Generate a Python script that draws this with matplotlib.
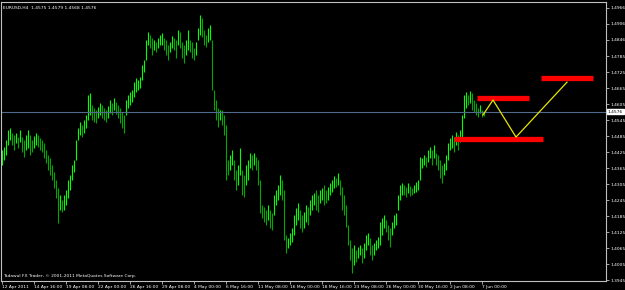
import matplotlib
matplotlib.use("Agg")
import matplotlib.pyplot as plt
import numpy as np

# EURUSD H4 bars (high / low per bar)
highs = [1.4433, 1.4444, 1.4470, 1.4508, 1.4515, 1.4496, 1.4489, 1.4496, 1.4481, 1.4508,
         1.4481, 1.4470, 1.4489, 1.4508, 1.4489, 1.4470, 1.4485, 1.4496, 1.4489, 1.4478,
         1.4470, 1.4459, 1.4433, 1.4414, 1.4403, 1.4376, 1.4350, 1.4320, 1.4290, 1.4264,
         1.4245, 1.4264, 1.4283, 1.4320, 1.4339, 1.4376, 1.4395, 1.4470, 1.4515, 1.4538,
         1.4526, 1.4545, 1.4564, 1.4639, 1.4646, 1.4601, 1.4590, 1.4583, 1.4594, 1.4609,
         1.4601, 1.4590, 1.4583, 1.4598, 1.4620, 1.4609, 1.4628, 1.4613, 1.4601, 1.4590,
         1.4575, 1.4564, 1.4620, 1.4639, 1.4650, 1.4658, 1.4688, 1.4703, 1.4695, 1.4706,
         1.4751, 1.4770, 1.4845, 1.4875, 1.4864, 1.4853, 1.4845, 1.4838, 1.4853, 1.4864,
         1.4871, 1.4853, 1.4845, 1.4826, 1.4838, 1.4860, 1.4853, 1.4845, 1.4883, 1.4875,
         1.4838, 1.4826, 1.4845, 1.4883, 1.4845, 1.4838, 1.4815, 1.4838, 1.4890, 1.4939,
         1.4928, 1.4883, 1.4864, 1.4890, 1.4901, 1.4845, 1.4658, 1.4620, 1.4590, 1.4583,
         1.4583, 1.4564, 1.4526, 1.4395, 1.4414, 1.4433, 1.4395, 1.4358, 1.4376, 1.4440,
         1.4358, 1.4339, 1.4376, 1.4395, 1.4421, 1.4414, 1.4421, 1.4406, 1.4395, 1.4320,
         1.4226, 1.4219, 1.4208, 1.4226, 1.4208, 1.4196, 1.4264, 1.4283, 1.4301, 1.4339,
         1.4320, 1.4283, 1.4114, 1.4103, 1.4121, 1.4140, 1.4189, 1.4215, 1.4234, 1.4208,
         1.4189, 1.4200, 1.4226, 1.4219, 1.4245, 1.4264, 1.4271, 1.4283, 1.4264, 1.4283,
         1.4290, 1.4301, 1.4283, 1.4294, 1.4309, 1.4320, 1.4335, 1.4328, 1.4346, 1.4320,
         1.4294, 1.4264, 1.4226, 1.4151, 1.4095, 1.4065, 1.4076, 1.4058, 1.4069, 1.4076,
         1.4065, 1.4084, 1.4114, 1.4121, 1.4103, 1.4076, 1.4084, 1.4095, 1.4106, 1.4163,
         1.4178, 1.4189, 1.4170, 1.4151, 1.4140, 1.4163, 1.4189, 1.4196, 1.4264, 1.4301,
         1.4309, 1.4301, 1.4294, 1.4309, 1.4298, 1.4290, 1.4301, 1.4313, 1.4320, 1.4406,
         1.4403, 1.4414, 1.4406, 1.4433, 1.4444, 1.4433, 1.4451, 1.4421, 1.4414, 1.4395,
         1.4376, 1.4384, 1.4414, 1.4459, 1.4478, 1.4489, 1.4481, 1.4500, 1.4489, 1.4508,
         1.4564, 1.4639, 1.4650, 1.4639, 1.4654, 1.4646, 1.4620, 1.4609, 1.4590, 1.4601,
         1.4583, 1.4575]
lows = [1.4376, 1.4395, 1.4414, 1.4451, 1.4470, 1.4451, 1.4433, 1.4459, 1.4440, 1.4463,
        1.4425, 1.4406, 1.4433, 1.4440, 1.4414, 1.4425, 1.4440, 1.4451, 1.4444, 1.4433,
        1.4425, 1.4403, 1.4384, 1.4358, 1.4339, 1.4320, 1.4290, 1.4253, 1.4159, 1.4208,
        1.4200, 1.4208, 1.4226, 1.4253, 1.4283, 1.4320, 1.4350, 1.4395, 1.4470, 1.4489,
        1.4481, 1.4496, 1.4515, 1.4545, 1.4564, 1.4545, 1.4538, 1.4534, 1.4553, 1.4564,
        1.4553, 1.4545, 1.4538, 1.4553, 1.4571, 1.4564, 1.4583, 1.4568, 1.4553, 1.4534,
        1.4515, 1.4496, 1.4564, 1.4590, 1.4601, 1.4613, 1.4631, 1.4650, 1.4658, 1.4665,
        1.4695, 1.4725, 1.4770, 1.4826, 1.4815, 1.4789, 1.4808, 1.4800, 1.4815, 1.4826,
        1.4826, 1.4808, 1.4789, 1.4770, 1.4800, 1.4815, 1.4808, 1.4778, 1.4826, 1.4815,
        1.4778, 1.4759, 1.4789, 1.4808, 1.4800, 1.4778, 1.4770, 1.4789, 1.4845, 1.4864,
        1.4856, 1.4826, 1.4819, 1.4838, 1.4845, 1.4658, 1.4583, 1.4545, 1.4519, 1.4545,
        1.4526, 1.4489, 1.4320, 1.4339, 1.4358, 1.4376, 1.4320, 1.4283, 1.4301, 1.4339,
        1.4264, 1.4256, 1.4301, 1.4320, 1.4365, 1.4358, 1.4376, 1.4358, 1.4301, 1.4196,
        1.4178, 1.4163, 1.4151, 1.4170, 1.4140, 1.4133, 1.4189, 1.4226, 1.4245, 1.4264,
        1.4245, 1.4095, 1.4046, 1.4065, 1.4076, 1.4088, 1.4114, 1.4151, 1.4170, 1.4140,
        1.4125, 1.4140, 1.4163, 1.4151, 1.4189, 1.4208, 1.4226, 1.4208, 1.4200, 1.4234,
        1.4245, 1.4226, 1.4234, 1.4245, 1.4264, 1.4275, 1.4290, 1.4294, 1.4301, 1.4264,
        1.4208, 1.4189, 1.4144, 1.4076, 1.4020, 1.3971, 1.4001, 1.4013, 1.4028, 1.4039,
        1.4009, 1.4028, 1.4058, 1.4076, 1.4039, 1.4020, 1.4039, 1.4058, 1.4065, 1.4076,
        1.4114, 1.4140, 1.4125, 1.4095, 1.4069, 1.4114, 1.4140, 1.4151, 1.4208, 1.4245,
        1.4264, 1.4264, 1.4256, 1.4271, 1.4260, 1.4264, 1.4271, 1.4275, 1.4283, 1.4320,
        1.4365, 1.4376, 1.4369, 1.4388, 1.4403, 1.4376, 1.4403, 1.4376, 1.4358, 1.4328,
        1.4309, 1.4339, 1.4358, 1.4395, 1.4433, 1.4440, 1.4425, 1.4451, 1.4433, 1.4463,
        1.4470, 1.4553, 1.4590, 1.4601, 1.4609, 1.4583, 1.4575, 1.4564, 1.4556, 1.4571,
        1.4556, 1.4560]

x_labels = ["12 Apr 2011", "14 Apr 16:00", "19 Apr 08:00", "22 Apr 00:00", "26 Apr 16:00",
            "29 Apr 08:00", "4 May 00:00", "6 May 16:00", "11 May 08:00", "16 May 00:00",
            "18 May 16:00", "23 May 08:00", "26 May 00:00", "30 May 16:00", "2 Jun 08:00",
            "7 Jun 00:00"]
y_ticks = [1.4966, 1.4906, 1.4846, 1.4785, 1.4725, 1.4665, 1.4605, 1.4545, 1.4485,
           1.4425, 1.4365, 1.4305, 1.4245, 1.4185, 1.4125, 1.4065, 1.4005, 1.3945]

bid = 1.4576
# drawn objects: red level bars (start bar, end bar, price) and the yellow path
red_start = [237.5, 226.0, 269.5]
red_end = [263.5, 270.5, 295.5]
red_level = [1.4626, 1.4472, 1.4701]
path_x = [240.5, 245.5, 257.0, 282.5]
path_y = [1.4564, 1.4620, 1.4481, 1.4687]

fig = plt.figure(figsize=(6.25, 2.9), dpi=100, facecolor="black")
ax = fig.add_axes([1 / 625, 9 / 290, 605 / 625, 279 / 290])
ax.set_facecolor("black")

n = len(highs)
xs = np.arange(n)
mids = (np.array(highs) + np.array(lows)) / 2
cols = ["#00ff00" if i == 0 or mids[i] >= mids[i - 1] else "#00a800" for i in range(n)]
ax.vlines(xs, lows, highs, colors=cols, linewidth=0.8)

ax.axhline(bid, color="#4e6a8c", lw=0.8)
for s, e, lv in zip(red_start, red_end, red_level):
    ax.plot([s, e], [lv, lv], color="#ff0000", lw=3.8, solid_capstyle="butt")
ax.plot(path_x, path_y, color="#e6e600", lw=0.9)

ax.set_xlim(-0.5, 302)
ax.set_ylim(1.39413, 1.49875)

for sp in ax.spines.values():
    sp.set_color("#c0c0c0")
    sp.set_linewidth(0.8)

ax.yaxis.tick_right()
ax.set_yticks(y_ticks)
ax.set_yticklabels([f"{v:.4f}" for v in y_ticks])
ax.set_xticks(np.arange(len(x_labels)) * 16)
ax.set_xticklabels(x_labels, ha="left")
ax.tick_params(axis="both", colors="#c0c0c0", labelcolor="white", labelsize=3.2,
               length=2, width=0.6, pad=1)

ax.text(1.003, bid, f"{bid:.4f}", transform=ax.get_yaxis_transform(),
        fontsize=3.2, color="black", va="center", ha="left",
        bbox=dict(boxstyle="square,pad=0.15", fc="white", ec="white"))

ax.text(0.004, 0.985, "EURUSD,H4  1.4575 1.4579 1.4568 1.4576", transform=ax.transAxes,
        fontsize=3.2, color="white", va="top", ha="left")
ax.text(0.004, 0.012, "Tadawul FX Trader, \u00a9 2001-2011 MetaQuotes Software Corp.",
        transform=ax.transAxes, fontsize=3.2, color="white", va="bottom", ha="left")

fig.savefig("out.png", dpi=100, facecolor="black")
